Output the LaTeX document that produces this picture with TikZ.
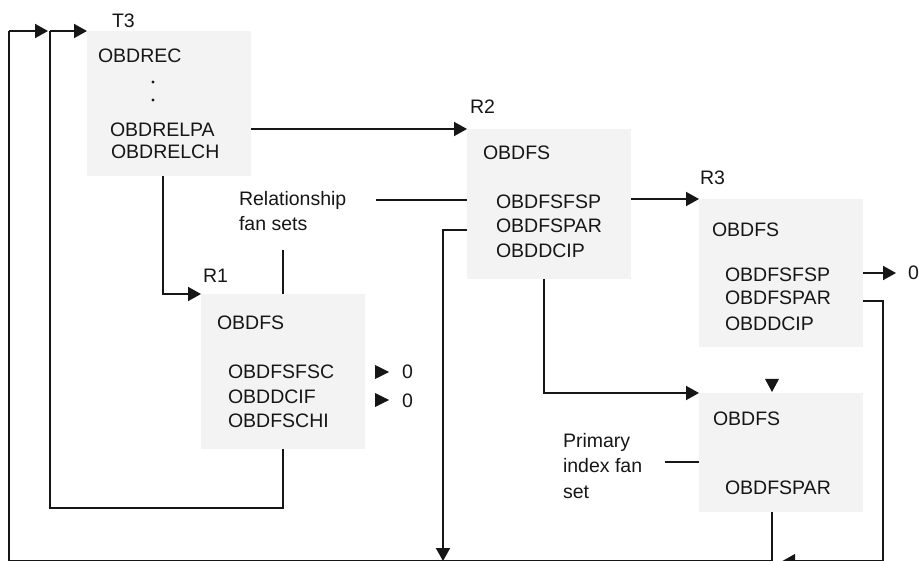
\documentclass[tikz,border=0pt]{standalone}
\usepackage{fontspec}
\setmainfont{Liberation Sans}
\usetikzlibrary{arrows.meta,calc}
\definecolor{ink}{HTML}{161616}
\definecolor{boxfill}{HTML}{F3F3F3}
\begin{document}
\begin{tikzpicture}[x=1pt,y=-1pt,
  box/.style={fill=boxfill, draw=none, inner sep=0pt, outer sep=0pt, minimum width=164pt, anchor=north west},
  txt/.style={inner sep=0pt, outer sep=0pt, anchor=base west, text=ink, font=\fontsize{19.5}{25.5}\selectfont},
  wire/.style={draw=ink, line width=1.9pt},
  arr/.style={wire, -{Triangle[length=13pt,width=14pt]}},
  tri/.style={fill=ink}]
\useasboundingbox (0,0) rectangle (919,561);

% boxes
\node[box, minimum height=145pt] (T3) at (87,31) {};
\node[box, minimum height=155pt] (R1) at (201,294) {};
\node[box, minimum height=150pt] (R2) at (467,129) {};
\node[box, minimum height=148pt] (R3) at (699,199) {};
\node[box, minimum height=119pt] (R4) at (699,393) {};

% T3 texts
\node[txt] (t3lbl) at (112,28) {T3};
\node[txt] (t3a) at (98,63) {OBDREC};
\fill[tri] (153,82) circle (1.6pt);
\fill[tri] (153,100) circle (1.6pt);
\node[txt] (t3b) at (110,137) {OBDRELPA};
\node[txt] (t3c) at (111,159) {OBDRELCH};

% R2 texts
\node[txt] (r2lbl) at (470,114) {R2};
\node[txt] (r2a) at (483,160) {OBDFS};
\node[txt] (r2b) at (496,209) {OBDFSFSP};
\node[txt] (r2c) at (496,233) {OBDFSPAR};
\node[txt] (r2d) at (496,258) {OBDDCIP};

% R3 texts
\node[txt] (r3lbl) at (700,185) {R3};
\node[txt] (r3a) at (712,237) {OBDFS};
\node[txt] (r3b) at (725,282) {OBDFSFSP};
\node[txt] (r3c) at (725,305) {OBDFSPAR};
\node[txt] (r3d) at (725,331) {OBDDCIP};
\node[txt] (r3z) at (908,280) {0};

% R1 texts
\node[txt] (r1lbl) at (203,283) {R1};
\node[txt] (r1a) at (217,330) {OBDFS};
\node[txt] (r1b) at (228,379) {OBDFSFSC};
\node[txt] (r1c) at (228,404) {OBDDCIF};
\node[txt] (r1d) at (228,428) {OBDFSCHI};
\node[txt] (r1z1) at (402,379) {0};
\node[txt] (r1z2) at (402,407) {0};

% R4 texts
\node[txt] (r4a) at (713,425) {OBDFS};
\node[txt] (r4b) at (725,494) {OBDFSPAR};

% labels
\node[txt, align=left, anchor=north west] (rel) at (239,191) {Relationship\\fan sets};
\node[txt, align=left, anchor=north west] (pri) at (563,433) {Primary\\index fan\\set};

% free-end coordinates
\coordinate (relEnd) at (376,200);
\coordinate (relDown) at (283,250);
\coordinate (priEnd) at (665,462);
\coordinate (t3out) at (163,176);
\coordinate (r2out) at (544,279);
\coordinate (r2par) at (467,230);
\coordinate (r2turn) at (443,230);
\coordinate (r2tip) at (443,561);
\coordinate (r3fsp) at (863,273);
\coordinate (r3tip) at (896,273);
\coordinate (r3par) at (863,301);
\coordinate (r3turn) at (883,301);
\coordinate (r3down) at (883,561.2);
\coordinate (r3tipb) at (782,561.2);
\coordinate (r4out) at (772,512);
\coordinate (r4down) at (772,561.2);
\coordinate (outerBL) at (9,561.2);
\coordinate (outerTL) at (9,31);
\coordinate (outerTip) at (48,31);
\coordinate (innerBR) at (283,508);
\coordinate (innerBL) at (50,508);
\coordinate (innerTL) at (50,31);

% connectors
\draw[arr] (T3.east |- R2.north west) -- (R2.north west);
\draw[arr] (t3out) |- (R1.north west);
\draw[arr] (R2.east |- R3.north west) -- (R3.north west);
\draw[arr] (r2out) |- (R4.north west);
\draw[arr] (r3fsp) -- (r3tip);
\draw[arr] (r3par) -- (r3turn) -- (r3down) -- (r3tipb);
\draw[wire] (r4out) -- (r4down) -- (outerBL) -- (outerTL);
\draw[arr] (outerTL) -- (outerTip);
\draw[wire] (R1.south) -- (innerBR) -- (innerBL) -- (innerTL);
\draw[arr] (innerTL) -- (T3.north west);
\draw[arr] (r2par) -- (r2turn) -- (r2tip);
\draw[wire] (relEnd) -- (R2.west |- relEnd);
\draw[wire] (relDown) -- (R1.north);
\draw[wire] (priEnd) -- (R4.west |- priEnd);

% floating markers
\fill[tri] (375,365) -- (389,372) -- (375,379) -- cycle;
\fill[tri] (375,393) -- (389,400) -- (375,407) -- cycle;
\fill[tri] (765,379) -- (779,379) -- (772,392) -- cycle;
\end{tikzpicture}
\end{document}
